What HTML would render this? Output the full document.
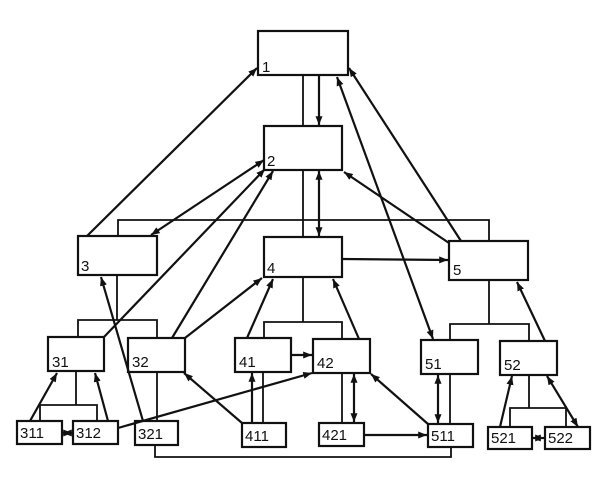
<!DOCTYPE html>
<html><head><style>body{margin:0;background:#fff}svg{display:block}text{font-family:"Liberation Sans",sans-serif;font-size:15px;fill:#111}</style></head>
<body>
<svg width="600" height="482" viewBox="0 0 600 482">
<defs><marker id="a" viewBox="0 0 10 10" refX="10" refY="5" markerWidth="4" markerHeight="4" orient="auto-start-reverse"><path d="M0,1 L10,5 L0,9z" fill="#111"/></marker></defs>
<g fill="#fff" stroke="#111" stroke-width="2.2">
<rect x="258" y="31" width="90" height="44"/>
<rect x="264" y="126" width="78" height="44"/>
<rect x="78" y="236" width="79" height="39"/>
<rect x="264" y="237" width="78" height="40"/>
<rect x="449" y="241" width="79" height="39"/>
<rect x="48" y="337" width="56" height="34"/>
<rect x="128" y="338" width="57" height="34"/>
<rect x="235" y="338" width="56" height="34"/>
<rect x="313" y="339" width="57" height="34"/>
<rect x="421" y="340" width="57" height="34"/>
<rect x="500" y="341" width="57" height="34"/>
<rect x="17" y="421" width="45" height="23"/>
<rect x="73" y="421" width="45" height="23"/>
<rect x="135" y="421" width="43" height="24"/>
<rect x="242" y="423" width="44" height="24"/>
<rect x="319" y="423" width="45" height="23"/>
<rect x="428" y="424" width="45" height="23"/>
<rect x="488" y="427" width="44" height="22"/>
<rect x="545" y="427" width="45" height="22"/>
</g>
<g fill="none" stroke="#111" stroke-width="1.8">
<path d="M303 75V126M303 170V237M118 236V220H489V241M117 275V320M78 337V320H157V337M76 371V405M40 421V405H97V421M157 372V421M303 277V322M264 338V322H342V338M263 372V423M342 373V423M489 280V324M450 340V324H529V341M450 374V424M529 375V408M510 427V408H566V427M155 445V457H451V448"/>
</g>
<g fill="none" stroke="#111" stroke-width="2.2" marker-end="url(#a)">
<path d="M319 75V125"/>
<path d="M319 171V236" marker-start="url(#a)"/>
<path d="M87 236L257 68"/>
<path d="M264 160L151 235" marker-start="url(#a)"/>
<path d="M104 337L265 169"/>
<path d="M172 338L273 171"/>
<path d="M185 338L262 278"/>
<path d="M247 338L273 279"/>
<path d="M359 339L333 279"/>
<path d="M342 259L448 260"/>
<path d="M461 241L349 68"/>
<path d="M449 243L344 172"/>
<path d="M337 77L433 339" marker-start="url(#a)"/>
<path d="M30 421L57 373"/>
<path d="M108 421L95 373"/>
<path d="M143 421L101 277"/>
<path d="M63 433H72" marker-start="url(#a)"/>
<path d="M118 428L312 373"/>
<path d="M291 355H312"/>
<path d="M242 423L184 373"/>
<path d="M428 424L371 374"/>
<path d="M364 435H427"/>
<path d="M545 341L517 282"/>
<path d="M500 427L512 376"/>
<path d="M578 427L547 376" marker-start="url(#a)"/>
<path d="M532 438H544" marker-start="url(#a)"/>
<path d="M252 422V373"/>
<path d="M354 374V422" marker-start="url(#a)"/>
<path d="M438 375V423" marker-start="url(#a)"/>
</g>
<text x="262" y="72">1</text><text x="267" y="166">2</text><text x="81" y="271">3</text><text x="267" y="273">4</text><text x="453" y="275">5</text>
<text x="52" y="367">31</text><text x="132" y="367">32</text><text x="239" y="367">41</text><text x="317" y="368">42</text><text x="425" y="369">51</text><text x="504" y="370">52</text>
<g style="font-size:14px"><text x="20" y="438">311</text><text x="76" y="438">312</text><text x="138" y="439">321</text><text x="245" y="441">411</text><text x="322" y="440">421</text><text x="431" y="441">511</text><text x="491" y="443">521</text><text x="548" y="443">522</text></g>
</svg>
</body></html>
